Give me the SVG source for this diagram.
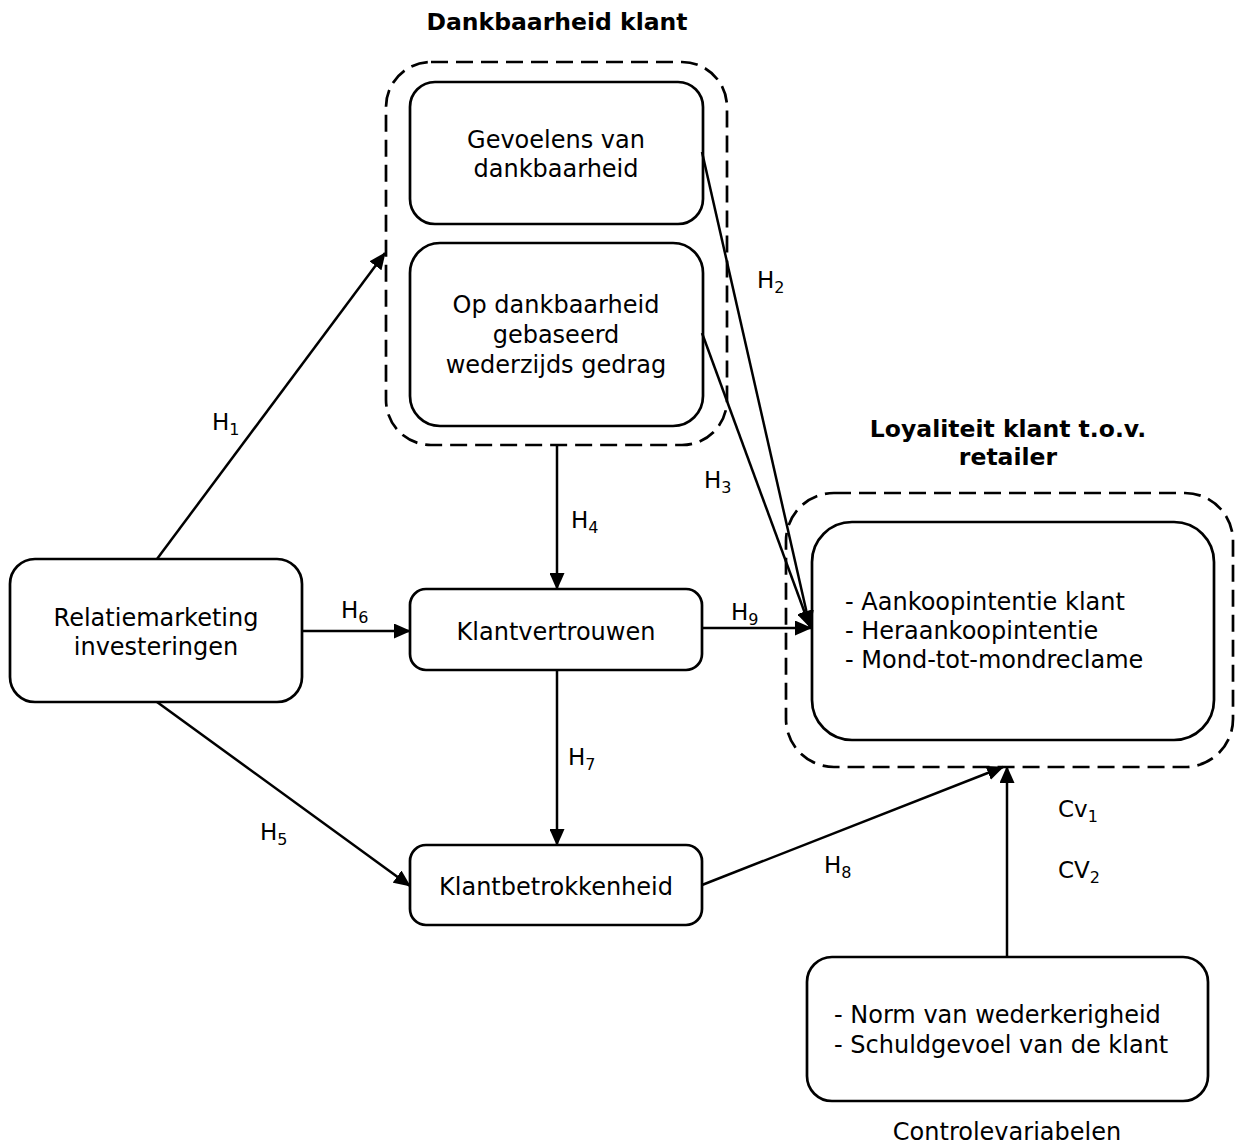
<svg xmlns="http://www.w3.org/2000/svg" width="1235" height="1144" viewBox="0 0 1235 1144">
<style>
text{font-family:"DejaVu Sans","Verdana",sans-serif;font-size:24px;fill:#000}
.t{text-anchor:middle}
.b{font-weight:bold;font-size:23.5px}
.box{fill:#fff;stroke:#000;stroke-width:2.7}
.dash{fill:none;stroke:#000;stroke-width:2.7;stroke-dasharray:17 8}
.lab{font-size:23px}
.sub{font-size:16px}
.c{stroke:#000;stroke-width:2.5;fill:none;marker-end:url(#ah)}
</style>
<defs>
<marker id="ah" markerUnits="userSpaceOnUse" markerWidth="17" markerHeight="15" refX="16" refY="7.5" orient="auto">
<path d="M0,0 L17,7.5 L0,15 Z" fill="#000"/>
</marker>
</defs>
<g id="dankbaarheid">
<text class="t b" x="557" y="30">Dankbaarheid klant</text>
<rect class="dash" x="386" y="62" width="341" height="383" rx="45"/>
</g>
<g id="gevoelens">
<rect class="box" x="410" y="82" width="293" height="142" rx="25"/>
<text class="t" x="556" y="148">Gevoelens van</text>
<text class="t" x="556" y="177">dankbaarheid</text>
</g>
<g id="gedrag">
<rect class="box" x="410" y="243" width="293" height="183" rx="30"/>
<text class="t" x="556" y="313">Op dankbaarheid</text>
<text class="t" x="556" y="343">gebaseerd</text>
<text class="t" x="556" y="373">wederzijds gedrag</text>
</g>
<g id="relatie">
<rect class="box" x="10" y="559" width="292" height="143" rx="25"/>
<text class="t" x="156" y="626">Relatiemarketing</text>
<text class="t" x="156" y="655">investeringen</text>
</g>
<g id="vertrouwen">
<rect class="box" x="410" y="589" width="292" height="81" rx="16"/>
<text class="t" x="556" y="640">Klantvertrouwen</text>
</g>
<g id="betrokkenheid">
<rect class="box" x="410" y="845" width="292" height="80" rx="16"/>
<text class="t" x="556" y="895">Klantbetrokkenheid</text>
</g>
<g id="loyaliteit">
<text class="t b" x="1008" y="437">Loyaliteit klant t.o.v.</text>
<text class="t b" x="1008" y="465">retailer</text>
<rect class="dash" x="786" y="493" width="447" height="274" rx="48"/>
<rect class="box" x="812" y="522" width="402" height="218" rx="40"/>
<text x="845" y="610">- Aankoopintentie klant</text>
<text x="845" y="639">- Heraankoopintentie</text>
<text x="845" y="668">- Mond-tot-mondreclame</text>
</g>
<g id="controle">
<rect class="box" x="807" y="957" width="401" height="144" rx="25"/>
<text x="834" y="1023">- Norm van wederkerigheid</text>
<text x="834" y="1053">- Schuldgevoel van de klant</text>
<text class="t" x="1007" y="1140">Controlevariabelen</text>
</g>
<g id="connectors">
<line class="c" x1="157" y1="559" x2="385" y2="253"/>
<line class="c" x1="702" y1="152" x2="810" y2="627"/>
<line class="c" x1="702" y1="333" x2="810" y2="627"/>
<line class="c" x1="557" y1="445" x2="557" y2="589"/>
<line class="c" x1="302" y1="631" x2="410" y2="631"/>
<line class="c" x1="702" y1="628" x2="811" y2="628"/>
<line class="c" x1="557" y1="670" x2="557" y2="845"/>
<line class="c" x1="157" y1="702" x2="410" y2="886"/>
<line class="c" x1="702" y1="885" x2="1003" y2="767"/>
<line class="c" x1="1007" y1="957" x2="1007" y2="767"/>
</g>
<g id="labels">
<text class="lab" x="212" y="430">H<tspan class="sub" dy="5">1</tspan></text>
<text class="lab" x="757" y="288">H<tspan class="sub" dy="5">2</tspan></text>
<text class="lab" x="704" y="488">H<tspan class="sub" dy="5">3</tspan></text>
<text class="lab" x="571" y="528">H<tspan class="sub" dy="5">4</tspan></text>
<text class="lab" x="260" y="840">H<tspan class="sub" dy="5">5</tspan></text>
<text class="lab" x="341" y="618">H<tspan class="sub" dy="5">6</tspan></text>
<text class="lab" x="568" y="765">H<tspan class="sub" dy="5">7</tspan></text>
<text class="lab" x="824" y="873">H<tspan class="sub" dy="5">8</tspan></text>
<text class="lab" x="731" y="620">H<tspan class="sub" dy="5">9</tspan></text>
<text class="lab" x="1058" y="817">Cv<tspan class="sub" dy="5">1</tspan></text>
<text class="lab" x="1058" y="878">CV<tspan class="sub" dy="5">2</tspan></text>
</g>
</svg>
